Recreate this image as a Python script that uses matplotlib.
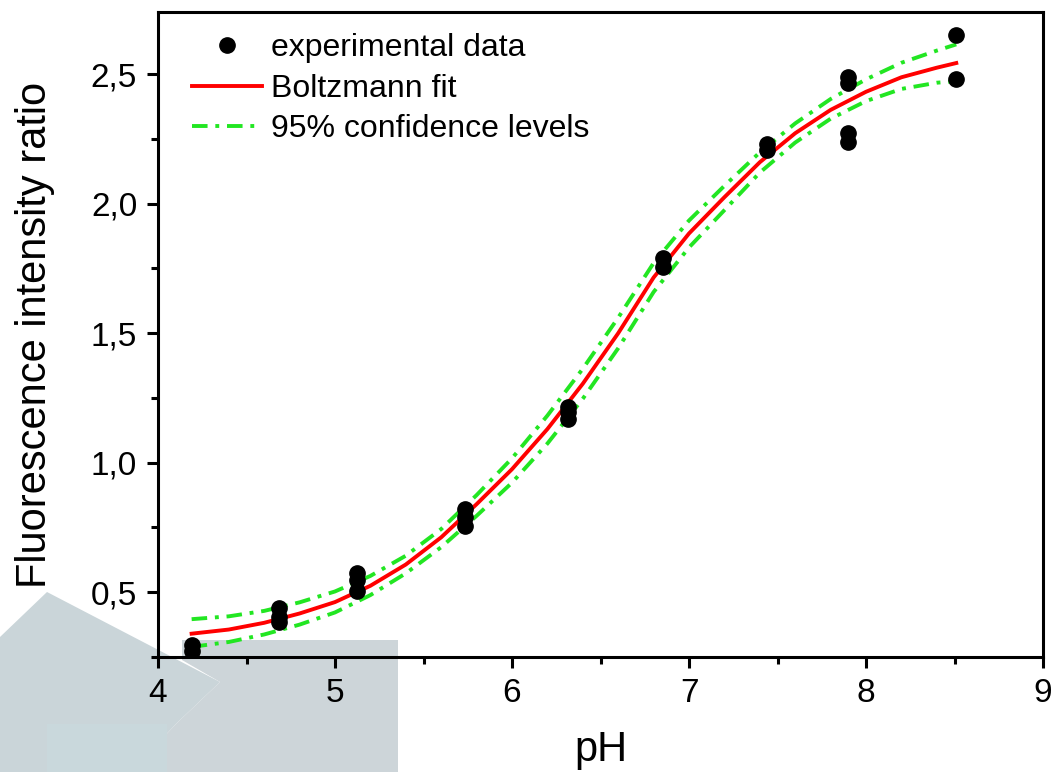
import matplotlib
matplotlib.use("Agg")
import matplotlib.pyplot as plt
from matplotlib.patches import Polygon
from matplotlib.ticker import MultipleLocator, FuncFormatter

plt.rcParams["font.family"] = ["Liberation Sans", "DejaVu Sans"]

# experimental points
ph = [4.19, 4.19, 4.685, 4.685, 4.685, 5.126, 5.126, 5.126,
      5.734, 5.734, 5.734, 6.318, 6.318, 6.318, 6.855, 6.855,
      7.439, 7.439, 7.90, 7.90, 7.90, 7.90, 8.507, 8.507]
ratio = [0.296, 0.275, 0.441, 0.405, 0.385, 0.576, 0.546, 0.505,
         0.820, 0.791, 0.755, 1.215, 1.196, 1.167, 1.792, 1.756,
         2.230, 2.209, 2.490, 2.467, 2.272, 2.237, 2.651, 2.480]

# Boltzmann fit and confidence band
fit_ph = [4.19, 4.4, 4.6, 4.8, 5.0, 5.2, 5.4, 5.6, 5.8, 6.0, 6.2, 6.4,
          6.6, 6.8, 7.0, 7.2, 7.4, 7.6, 7.8, 8.0, 8.2, 8.4, 8.51]
fit = [0.340, 0.356, 0.382, 0.418, 0.462, 0.525, 0.607, 0.712, 0.840,
       0.975, 1.130, 1.305, 1.500, 1.715, 1.885, 2.025, 2.160, 2.272,
       2.362, 2.432, 2.488, 2.525, 2.543]
upper = [0.396, 0.407, 0.428, 0.461, 0.503, 0.563, 0.641, 0.744, 0.875,
         1.017, 1.182, 1.363, 1.560, 1.771, 1.935, 2.069, 2.198, 2.310,
         2.404, 2.480, 2.544, 2.591, 2.615]
lower = [0.289, 0.308, 0.337, 0.375, 0.422, 0.489, 0.573, 0.674, 0.795,
         0.923, 1.074, 1.247, 1.442, 1.659, 1.831, 1.975, 2.120, 2.236,
         2.328, 2.396, 2.443, 2.467, 2.473]

W, H = 1052, 772
fig = plt.figure(figsize=(W / 100, H / 100), dpi=100)


def px(pts):
    return [(x / W, 1 - y / H) for x, y in pts]


# pale logo shapes in the lower left corner
shapes = [
    ([(0, 637), (47, 592), (220, 682), (178, 722), (130, 772), (0, 772)], "#cad5d9"),
    ([(182, 640), (398, 640), (398, 772), (130, 772), (178, 722), (220, 682), (182, 660)], "#cdd5d9"),
    ([(47, 724), (167, 724), (167, 772), (47, 772)], "#c9d8dc"),
]
for pts, col in shapes:
    fig.patches.append(Polygon(px(pts), closed=True, transform=fig.transFigure,
                               facecolor=col, edgecolor="none", zorder=-5))

ax = fig.add_axes([158 / W, 1 - 657 / H, (1043 - 158) / W, (657 - 12) / H])
ax.set_facecolor("none")

green = "#22e622"
ax.plot(ph, ratio, "o", color="black", markersize=11, zorder=3,
        label="experimental data")
ax.plot(fit_ph, fit, color="#ff0000", lw=2.8, zorder=2, label="Boltzmann fit")
ax.plot(fit_ph, upper, color=green, lw=2.8, dashes=(4, 2, 1, 2), zorder=2,
        label="95% confidence levels")
ax.plot(fit_ph, lower, color=green, lw=2.8, dashes=(4, 2, 1, 2), zorder=2)

ax.set_xlim(4, 9)
ax.set_ylim(0.25, 2.74)
ax.xaxis.set_major_locator(MultipleLocator(1))
ax.xaxis.set_minor_locator(MultipleLocator(0.5))
ax.yaxis.set_major_locator(MultipleLocator(0.5))
ax.yaxis.set_minor_locator(MultipleLocator(0.25))
ax.yaxis.set_major_formatter(FuncFormatter(lambda v, p: f"{v:.1f}".replace(".", ",")))
ax.tick_params(which="major", direction="out", length=8, width=2.2, labelsize=24, pad=7)
ax.tick_params(which="minor", direction="out", length=5, width=2.2)
for s in ax.spines.values():
    s.set_linewidth(2.2)

ax.set_xlabel("pH", fontsize=30, labelpad=15)
ax.set_ylabel("Fluorescence intensity ratio", fontsize=30, labelpad=26)

ax.legend(loc="upper left", bbox_to_anchor=(0.038, 0.967), frameon=False,
          fontsize=23, numpoints=1, handlelength=2.2, handletextpad=0.3,
          labelspacing=0.33, borderpad=0, borderaxespad=0)

fig.savefig("out.png", dpi=100)
